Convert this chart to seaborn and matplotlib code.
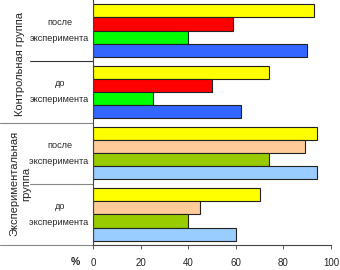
import matplotlib
matplotlib.use("Agg")
import matplotlib.pyplot as plt
import matplotlib.transforms as mtransforms
import seaborn as sns
import pandas as pd

sns.set_style("white")
plt.rcParams['font.family'] = ['Liberation Sans', 'DejaVu Sans']

categories = ["после\nэксперимента", "до\nэксперимента",
              "после\nэксперимента ", "до\nэксперимента "]
series = ["s1", "s2", "s3", "s4"]
values = {
    "s1": [93, 74, 94, 70],
    "s2": [59, 50, 89, 45],
    "s3": [40, 25, 74, 40],
    "s4": [90, 62, 94, 60],
}
control_colors = ["#FFFF00", "#FF0000", "#00FF00", "#3366FF"]
exper_colors = ["#FFFF00", "#FFCC99", "#99CC00", "#99CCFF"]
group_labels = ["Контрольная группа", "Экспериментальная\nгруппа"]
xticks = [0, 20, 40, 60, 80, 100]

rows = []
for s in series:
    for c, v in zip(categories, values[s]):
        rows.append({"cat": c, "series": s, "val": v})
df = pd.DataFrame(rows)

fig = plt.figure(figsize=(3.4, 2.7), dpi=100)
ax = fig.add_axes([93 / 340, 25 / 270, 238 / 340, 245 / 270])
sns.barplot(data=df, y="cat", x="val", hue="series", order=categories,
            hue_order=series, orient="h", width=0.86, ax=ax,
            edgecolor="#222222", linewidth=0.8, legend=False)

for si, cont in enumerate(ax.containers):
    for ci, bar in enumerate(cont):
        col = control_colors[si] if ci < 2 else exper_colors[si]
        bar.set_facecolor(col)

ax.set_xlim(0, 100)
ax.set_ylim(3.5, -0.5)
ax.set_xticks(xticks)
ax.set_xticklabels([str(t) for t in xticks], fontsize=7)
ax.set_yticks(range(4))
ax.set_yticklabels(categories, fontsize=6.6, linespacing=2.0, ha="center",
                   va="center")
ax.tick_params(axis="y", length=0, pad=24)
ax.tick_params(axis="x", length=3, width=0.6, direction="out", color="#444444",
               bottom=True, pad=6)
ax.set_xlabel("")
ax.set_ylabel("")
for s in ["top", "right"]:
    ax.spines[s].set_visible(False)
for s in ["left", "bottom"]:
    ax.spines[s].set_color("#444444")
    ax.spines[s].set_linewidth(0.8)

W = 238.0
trans = mtransforms.blended_transform_factory(ax.transAxes, ax.transData)
ax.plot([-63 / W, 0], [0.5, 0.5], transform=trans, color="#333333",
        lw=0.8, clip_on=False)
ax.plot([-63 / W, 0], [2.5, 2.5], transform=trans, color="#888888",
        lw=0.8, clip_on=False)
ax.plot([-93 / W, 0], [1.5, 1.5], transform=trans, color="#888888",
        lw=0.8, clip_on=False)
ax.plot([-93 / W, 0], [3.5, 3.5], transform=trans, color="#888888",
        lw=0.8, clip_on=False)

ax.text(-73 / W, 0.55, group_labels[0], transform=trans, rotation=90,
        ha="center", va="center", fontsize=8)
ax.text(-73 / W, 2.5, group_labels[1], transform=trans, rotation=90,
        ha="center", va="center", fontsize=8, linespacing=1.2)

fig.text(75 / 340, 1 - 262 / 270, "%", fontsize=7.5, fontweight="bold",
         ha="center", va="center")

fig.savefig("out.png", dpi=100)
